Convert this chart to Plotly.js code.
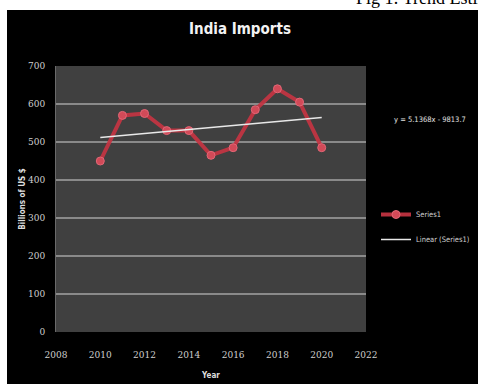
<!DOCTYPE html>
<html><head><meta charset="utf-8">
<script src="https://cdn.plot.ly/plotly-3.0.1.min.js"></script>
<style>
html,body{margin:0;padding:0;background:#fff;}
#page{position:relative;width:478px;height:384px;overflow:hidden;background:#fff;}
#chart{position:absolute;left:7px;top:10px;width:471px;height:374px;}
#caption{position:absolute;left:356px;top:-11px;white-space:nowrap;font-family:"Liberation Serif","Times New Roman",serif;font-size:18px;line-height:18px;color:#000;}
</style>
</head><body><div id="page"><div id="caption"></div><div id="chart"></div></div>
<script>
const years = [2010, 2011, 2012, 2013, 2014, 2015, 2016, 2017, 2018, 2019, 2020];
const imports = [450, 570, 575, 530, 530, 465, 485, 585, 640, 605, 485];
const xTicks = [2008, 2010, 2012, 2014, 2016, 2018, 2020, 2022];
const yTicks = [0, 100, 200, 300, 400, 500, 600, 700];
const equationText = 'y = 5.1368x - 9813.7';
const chartTitle = 'India Imports';
const figCaption = 'Fig 1: Trend Estimation';
document.getElementById('caption').textContent = figCaption;

// least-squares trend from the data
const n = years.length;
const mx = years.reduce((a,b)=>a+b,0)/n;
const my = imports.reduce((a,b)=>a+b,0)/n;
let sxy=0, sxx=0;
for (let i=0;i<n;i++){ sxy+=(years[i]-mx)*(imports[i]-my); sxx+=(years[i]-mx)**2; }
const slope = sxy/sxx, intercept = my - slope*mx;
const trendX = [years[0], years[n-1]];
const trendY = trendX.map(x => slope*x + intercept);

// geometry inside the chart div (offset 7,10 from page)
const W=471,H=374,L=49,R=359,T=56,B=322;
const px = x => (x-7-L)/(R-L);   // page x -> paper
const py = y => (B-(y-10))/(B-T); // page y -> paper

const data = [
  {x: years, y: imports, type:'scatter', mode:'lines+markers', name:'Series1',
   line:{color:'rgba(196,52,66,0.92)', width:4},
   marker:{color:'#d24a58', size:8, line:{color:'#e26676', width:1}}, legendgroup:'a'},
  {x: trendX, y: trendY, type:'scatter', mode:'lines', name:'Linear (Series1)',
   line:{color:'#e8e8e8', width:1.5}, legendgroup:'b'}
];

const cond = '"DejaVu Sans Condensed", "Liberation Sans Narrow", "DejaVu Sans", sans-serif';
const tickFont = {family:'"DejaVu Serif", "Liberation Serif", serif', size:9, color:'#cfcfcf'};
const layout = {
  width:W, height:H,
  margin:{l:L, r:W-R, t:T, b:H-B, pad:0, autoexpand:false},
  paper_bgcolor:'#000000', plot_bgcolor:'#404040',
  showlegend:true,
  title:{text:'<b>'+chartTitle+'</b>', x:px(240), xref:'paper', xanchor:'center', y:1-(29-10)/H, yanchor:'middle',
         font:{family:cond, size:15, color:'#f2f2f2'}},
  xaxis:{range:[2008,2022], tickvals:xTicks, ticktext:xTicks.map(String), showgrid:false, zeroline:false,
         showline:false, ticks:'', ticklabelstandoff:16, tickfont:tickFont, automargin:false,
         title:{text:'<b>Year</b>', standoff:13, font:{family:cond, size:8, color:'#dddddd'}}},
  yaxis:{range:[0,700], tickvals:yTicks, ticktext:yTicks.map(String), showgrid:true, gridcolor:'#8a8a8a', gridwidth:1.5,
         zeroline:false, showline:true, linecolor:'#6a6a6a', linewidth:1, ticks:'', ticklabelstandoff:8, tickfont:tickFont,
         automargin:false,
         title:{text:'<b>Billions of US $</b>', standoff:1, font:{family:cond, size:8, color:'#dddddd'}}},
  legend:{x:px(376), y:py(200), xanchor:'left', yanchor:'top', bgcolor:'rgba(0,0,0,0)',
          font:{family:cond, size:7.5, color:'#d0d0d0'},
          traceorder:'grouped', tracegroupgap:6, itemwidth:30},
  annotations:[
    {text:equationText, xref:'paper', yref:'paper', x:px(392), y:py(119), xanchor:'left', yanchor:'middle', showarrow:false,
     font:{family:cond, size:7.5, color:'#e0e0e0'}}
  ]
};
Plotly.newPlot('chart', data, layout, {displayModeBar:false, staticPlot:true});
</script></body></html>
